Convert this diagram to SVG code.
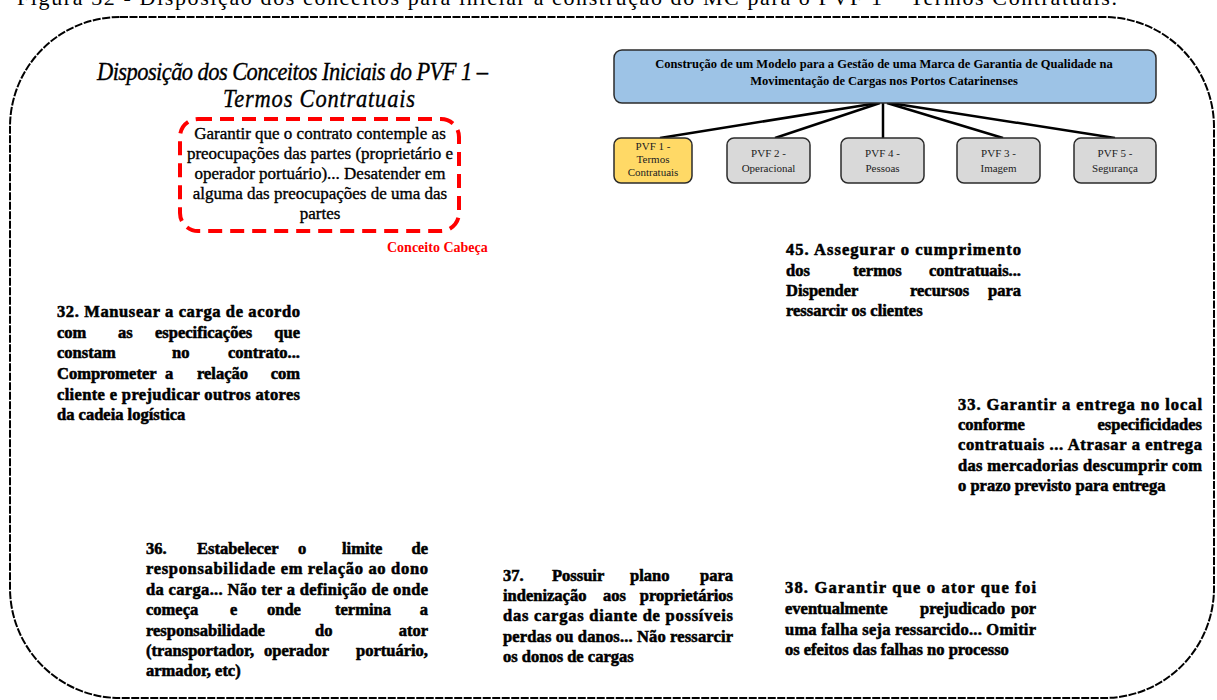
<svg xmlns="http://www.w3.org/2000/svg" width="1217" height="700" viewBox="0 0 1217 700">
  <style>
    .serif { font-family: "Liberation Serif", "Times New Roman", serif; }
    .caption { font-size: 22px; fill: #000; }
    .title { font-size: 22.5px; font-style: italic; fill: #000; stroke: #000; stroke-width: 0.3; }
    .head { font-size: 17px; fill: #000; stroke: #000; stroke-width: 0.35; text-anchor: middle; }
    .tag { font-size: 14px; font-weight: bold; fill: #ff0000; }
    .root-txt { font-size: 12.5px; font-weight: bold; fill: #000; text-anchor: middle; }
    .pvf-txt { font-size: 11px; fill: #222; text-anchor: middle; }
    .body { font-size: 16.5px; font-weight: bold; fill: #000; stroke: #000; stroke-width: 0.55; }
    .end { text-anchor: end; }
    .frame { fill: none; stroke: #000; stroke-width: 2; stroke-dasharray: 8 1.5; }
    .head-box { fill: none; stroke: #ff0000; stroke-width: 4; stroke-dasharray: 14 8; }
    .root-box { fill: #9dc3e6; stroke: #2b2b2b; stroke-width: 1.5; }
    .pvf-box { fill: #d9d9d9; stroke: #2b2b2b; stroke-width: 1.5; }
    .pvf-box.active { fill: #ffd966; }
    .link { stroke: #000; stroke-width: 2.5; fill: none; }
  </style>

  <!-- figure caption, partly above the page edge -->
  <text class="serif caption" x="17" y="5" textLength="1100" lengthAdjust="spacing">Figura 32 - Disposição dos conceitos para iniciar a construção do MC para o PVF 1 – Termos Contratuais.</text>

  <!-- outer rounded frame -->
  <rect class="frame" x="10" y="17" width="1204" height="681" rx="110" ry="110"/>

  <!-- title (slightly tall letterforms) -->
  <g id="title">
    <text class="serif title" transform="translate(97,80) scale(1,1.15)" x="0" y="0" textLength="391" lengthAdjust="spacing">Disposição dos Conceitos Iniciais do PVF 1 –</text>
    <text class="serif title" transform="translate(223,107) scale(1,1.15)" x="0" y="0" textLength="192" lengthAdjust="spacing">Termos Contratuais</text>
  </g>

  <!-- head concept -->
  <g id="conceito-cabeca">
    <rect class="head-box" x="180" y="119" width="279" height="112" rx="18" ry="18"/>
    <text class="serif head" x="320" y="139">Garantir que o contrato contemple as</text>
    <text class="serif head" x="320" y="159">preocupações das partes (proprietário e</text>
    <text class="serif head" x="320" y="179">operador portuário)... Desatender em</text>
    <text class="serif head" x="320" y="199">alguma das preocupações de uma das</text>
    <text class="serif head" x="320" y="219">partes</text>
    <text class="serif tag" x="387" y="252">Conceito Cabeça</text>
  </g>

  <!-- connectors of the value tree -->
  <g id="connectors">
    <line class="link" x1="878" y1="103" x2="660" y2="138"/>
    <line class="link" x1="880" y1="103" x2="775" y2="138"/>
    <line class="link" x1="883" y1="103" x2="883" y2="138"/>
    <line class="link" x1="887" y1="103" x2="1003" y2="138"/>
    <line class="link" x1="890" y1="103" x2="1115" y2="138"/>
  </g>

  <!-- root of the tree -->
  <g id="modelo">
    <rect class="root-box" x="614" y="50" width="542" height="53" rx="8" ry="8"/>
    <text class="serif root-txt" x="884" y="68">Construção de um Modelo para a Gestão de uma Marca de Garantia de Qualidade na</text>
    <text class="serif root-txt" x="884" y="85">Movimentação de Cargas nos Portos Catarinenses</text>
  </g>

  <!-- fundamental points of view -->
  <g id="pvf1">
    <rect class="pvf-box active" x="614" y="138" width="78" height="45" rx="7" ry="7"/>
    <text class="serif pvf-txt" x="653" y="150">PVF 1 -</text>
    <text class="serif pvf-txt" x="653" y="163">Termos</text>
    <text class="serif pvf-txt" x="653" y="176">Contratuais</text>
  </g>
  <g id="pvf2">
    <rect class="pvf-box" x="727" y="138" width="83" height="45" rx="7" ry="7"/>
    <text class="serif pvf-txt" x="768.5" y="157">PVF 2 -</text>
    <text class="serif pvf-txt" x="768.5" y="172">Operacional</text>
  </g>
  <g id="pvf4">
    <rect class="pvf-box" x="841" y="138" width="83" height="45" rx="7" ry="7"/>
    <text class="serif pvf-txt" x="882.5" y="157">PVF 4 -</text>
    <text class="serif pvf-txt" x="882.5" y="172">Pessoas</text>
  </g>
  <g id="pvf3">
    <rect class="pvf-box" x="957" y="138" width="83" height="45" rx="7" ry="7"/>
    <text class="serif pvf-txt" x="998.5" y="157">PVF 3 -</text>
    <text class="serif pvf-txt" x="998.5" y="172">Imagem</text>
  </g>
  <g id="pvf5">
    <rect class="pvf-box" x="1074" y="138" width="82" height="45" rx="7" ry="7"/>
    <text class="serif pvf-txt" x="1115" y="157">PVF 5 -</text>
    <text class="serif pvf-txt" x="1115" y="172">Segurança</text>
  </g>

  <!-- initial concepts (justified paragraphs) -->
  <g id="conceito-32" class="serif body">
    <text x="57" y="317" textLength="243" lengthAdjust="spacing">32. Manusear a carga de acordo</text>
    <text y="338"><tspan x="57">com</tspan><tspan x="118">as</tspan><tspan x="155">especificações</tspan><tspan class="end" x="300">que</tspan></text>
    <text y="358"><tspan x="57">constam</tspan><tspan x="172">no</tspan><tspan class="end" x="300">contrato...</tspan></text>
    <text y="379"><tspan x="57">Comprometer</tspan><tspan x="165">a</tspan><tspan x="197">relação</tspan><tspan class="end" x="300">com</tspan></text>
    <text x="57" y="400" textLength="243" lengthAdjust="spacing">cliente e prejudicar outros atores</text>
    <text x="57" y="420">da cadeia logística</text>
  </g>

  <g id="conceito-45" class="serif body">
    <text x="786" y="255" textLength="235" lengthAdjust="spacing">45. Assegurar o cumprimento</text>
    <text y="276"><tspan x="786">dos</tspan><tspan x="853">termos</tspan><tspan class="end" x="1021">contratuais...</tspan></text>
    <text y="296"><tspan x="786">Dispender</tspan><tspan x="910">recursos</tspan><tspan class="end" x="1021">para</tspan></text>
    <text x="786" y="316">ressarcir os clientes</text>
  </g>

  <g id="conceito-33" class="serif body">
    <text x="958" y="410" textLength="244" lengthAdjust="spacing">33. Garantir a entrega no local</text>
    <text y="430"><tspan x="958">conforme</tspan><tspan class="end" x="1202">especificidades</tspan></text>
    <text x="958" y="450" textLength="244" lengthAdjust="spacing">contratuais ... Atrasar a entrega</text>
    <text x="958" y="471" textLength="244" lengthAdjust="spacing">das mercadorias descumprir com</text>
    <text x="958" y="491">o prazo previsto para entrega</text>
  </g>

  <g id="conceito-36" class="serif body">
    <text y="554"><tspan x="146">36.</tspan><tspan x="197">Estabelecer</tspan><tspan x="298">o</tspan><tspan x="342">limite</tspan><tspan class="end" x="428">de</tspan></text>
    <text x="146" y="574" textLength="282" lengthAdjust="spacing">responsabilidade em relação ao dono</text>
    <text x="146" y="595" textLength="282" lengthAdjust="spacing">da carga... Não ter a definição de onde</text>
    <text y="615"><tspan x="146">começa</tspan><tspan x="230">e</tspan><tspan x="267">onde</tspan><tspan x="335">termina</tspan><tspan class="end" x="428">a</tspan></text>
    <text y="636"><tspan x="146">responsabilidade</tspan><tspan x="315">do</tspan><tspan class="end" x="428">ator</tspan></text>
    <text y="656"><tspan x="146">(transportador,</tspan><tspan x="264">operador</tspan><tspan class="end" x="428">portuário,</tspan></text>
    <text x="146" y="676">armador, etc)</text>
  </g>

  <g id="conceito-37" class="serif body">
    <text y="581"><tspan x="503">37.</tspan><tspan x="552">Possuir</tspan><tspan x="630">plano</tspan><tspan class="end" x="733">para</tspan></text>
    <text y="601"><tspan x="503">indenização</tspan><tspan x="603">aos</tspan><tspan class="end" x="733">proprietários</tspan></text>
    <text x="503" y="621" textLength="230" lengthAdjust="spacing">das cargas diante de possíveis</text>
    <text x="503" y="642" textLength="230" lengthAdjust="spacing">perdas ou danos... Não ressarcir</text>
    <text x="503" y="662">os donos de cargas</text>
  </g>

  <g id="conceito-38" class="serif body">
    <text x="785" y="593" textLength="251" lengthAdjust="spacing">38. Garantir que o ator que foi</text>
    <text y="614"><tspan x="785">eventualmente</tspan><tspan x="920">prejudicado</tspan><tspan class="end" x="1036">por</tspan></text>
    <text x="785" y="635" textLength="251" lengthAdjust="spacing">uma falha seja ressarcido... Omitir</text>
    <text x="785" y="655">os efeitos das falhas no processo</text>
  </g>
</svg>
